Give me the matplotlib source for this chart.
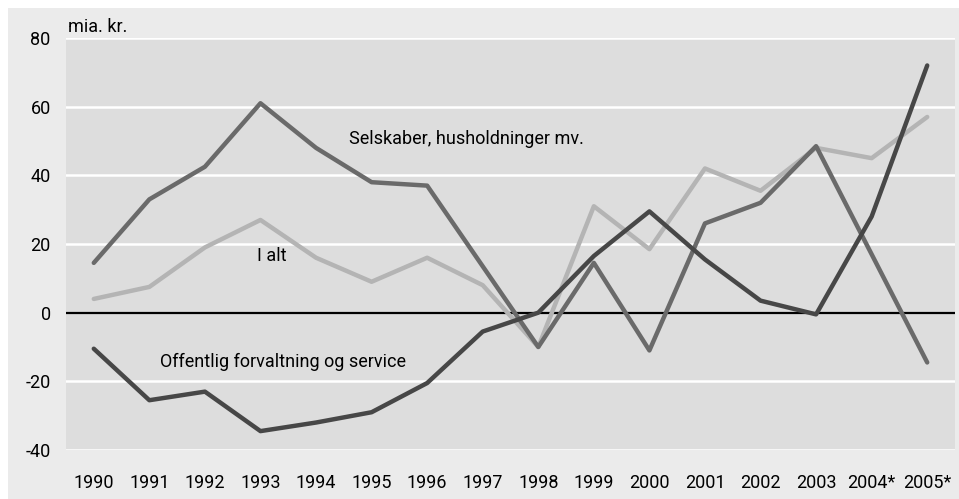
import numpy as np
import matplotlib.pyplot as plt
from matplotlib.patches import Rectangle

plt.rcParams['font.family'] = ['Roboto', 'DejaVu Sans']

years = ['1990', '1991', '1992', '1993', '1994', '1995', '1996', '1997',
         '1998', '1999', '2000', '2001', '2002', '2003', '2004*', '2005*']
selskaber = [14.5, 33, 42.5, 61, 48, 38, 37, 13.5, -10, 14.5, -11, 26, 32, 48.5, 17, -14.5]
i_alt = [4, 7.5, 19, 27, 16, 9, 16, 8, -10, 31, 18.5, 42, 35.5, 48, 45, 57]
offentlig = [-10.5, -25.5, -23, -34.5, -32, -29, -20.5, -5.5, 0, 16.5, 29.5, 15.5, 3.5, -0.5, 28, 72]
yticks = [80, 60, 40, 20, 0, -20, -40]

W, H = 959, 499
fig = plt.figure(figsize=(W / 100, H / 100), dpi=100)
fig.patch.set_facecolor('white')
fig.patches.append(Rectangle((8 / W, 0), 1 - 8 / W, 1 - 8 / H, transform=fig.transFigure,
                             facecolor='#ebebeb', edgecolor='none', zorder=-1))

ax = fig.add_axes([66 / W, (H - 450) / H, (955 - 66) / W, (450 - 38) / H])
ax.set_facecolor('#dddddd')
x = np.arange(len(years))

for v in yticks:
    if v == 0:
        ax.axhline(v, color='black', lw=1.6, zorder=2)
    else:
        ax.axhline(v, color='white', lw=1.8, zorder=1)

ax.plot(x, i_alt, color='#b4b4b4', lw=3.2, solid_capstyle='round', zorder=3)
ax.plot(x, selskaber, color='#6a6a6a', lw=3.2, solid_capstyle='round', zorder=4)
ax.plot(x, offentlig, color='#474747', lw=3.2, solid_capstyle='round', zorder=5)

ax.set_xlim(-0.5, len(years) - 0.5)
ax.set_ylim(-40, 80)
ax.set_yticks(yticks)
ax.set_yticklabels([str(v) for v in yticks])
ax.set_xticks(x)
ax.set_xticklabels(years)
ax.tick_params(length=0, labelsize=13, colors='black')
ax.tick_params(axis='y', pad=11)
ax.tick_params(axis='x', pad=17)
for s in ax.spines.values():
    s.set_visible(False)

ax.text(0.002, 1.005, 'mia. kr.', transform=ax.transAxes, fontsize=13, va='bottom', ha='left')
ax.text(4.6, 50.5, 'Selskaber, husholdninger mv.', fontsize=13, va='center', ha='left')
ax.text(3.21, 16.5, 'I alt', fontsize=13, va='center', ha='center')
ax.text(1.2, -14.5, 'Offentlig forvaltning og service', fontsize=13, va='center', ha='left')

fig.savefig('out.png', dpi=100, facecolor=fig.get_facecolor())
